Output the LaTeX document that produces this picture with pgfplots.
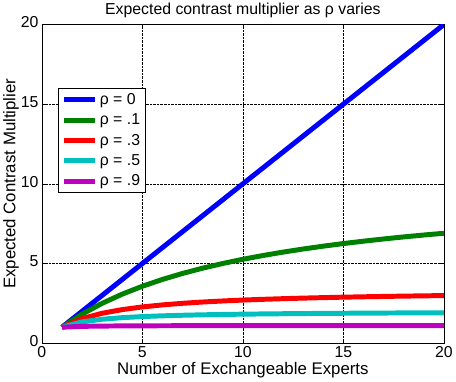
\documentclass[border=0pt]{standalone}
\usepackage{fontspec}
\setmainfont{Liberation Sans}
\usepackage{pgfplots}
\pgfplotsset{compat=1.18}
\definecolor{mgreen}{rgb}{0,0.5,0}
\definecolor{mcyan}{rgb}{0,0.75,0.75}
\definecolor{mmag}{rgb}{0.75,0,0.75}
\begin{document}
\begin{tikzpicture}[x=1bp,y=1bp]
\begin{axis}[
  scale only axis,
  width=405bp, height=321bp,
  xmin=0, xmax=20, ymin=0, ymax=20,
  xtick={0,5,10,15,20}, ytick={0,5,10,15,20},
  tick align=inside,
  tick style={black, thin},
  grid=major,
  grid style={densely dotted, black, thin},
  axis line style={black, thin},
  /pgf/number format/assume math mode=true,
  tick label style={font=\fontsize{16}{18}\selectfont},
  xticklabel style={yshift=0bp},
  yticklabel style={xshift=0bp, yshift=2bp},
  label style={font=\fontsize{17}{19}\selectfont},
  title style={font=\fontsize{16}{18}\selectfont, yshift=-3bp},
  title={Expected contrast multiplier as ρ varies},
  xlabel={Number of Exchangeable Experts},
  ylabel={Expected Contrast Multiplier},
  xlabel style={yshift=2bp},
  ylabel style={yshift=-5bp},
  legend style={at={(0.04,0.80)}, anchor=north west, draw=black, thin,
    font=\fontsize{16}{18}\selectfont, row sep=4bp, inner sep=3bp},
  legend cell align=left,
  legend image code/.code={\draw[#1, line width=5bp] (0bp,0bp) -- (32bp,0bp);},
  every axis plot/.append style={line width=5bp},
]
\addplot[blue] coordinates {(1,1)(2,2)(3,3)(4,4)(5,5)(6,6)(7,7)(8,8)(9,9)(10,10)(11,11)(12,12)(13,13)(14,14)(15,15)(16,16)(17,17)(18,18)(19,19)(20,20)};
\addplot[mgreen] coordinates {(1,1)(2,1.818)(3,2.5)(4,3.077)(5,3.571)(6,4)(7,4.375)(8,4.706)(9,5)(10,5.263)(11,5.5)(12,5.714)(13,5.909)(14,6.087)(15,6.25)(16,6.4)(17,6.538)(18,6.667)(19,6.786)(20,6.897)};
\addplot[red] coordinates {(1,1)(2,1.538)(3,1.875)(4,2.105)(5,2.273)(6,2.4)(7,2.5)(8,2.581)(9,2.647)(10,2.703)(11,2.75)(12,2.791)(13,2.826)(14,2.857)(15,2.885)(16,2.909)(17,2.931)(18,2.951)(19,2.969)(20,2.985)};
\addplot[mcyan] coordinates {(1,1)(2,1.333)(3,1.5)(4,1.6)(5,1.667)(6,1.714)(7,1.75)(8,1.778)(9,1.8)(10,1.818)(11,1.833)(12,1.846)(13,1.857)(14,1.867)(15,1.875)(16,1.882)(17,1.889)(18,1.895)(19,1.9)(20,1.905)};
\addplot[mmag] coordinates {(1,1)(2,1.053)(3,1.071)(4,1.081)(5,1.087)(6,1.091)(7,1.094)(8,1.096)(9,1.098)(10,1.099)(11,1.1)(12,1.101)(13,1.102)(14,1.102)(15,1.103)(16,1.103)(17,1.104)(18,1.104)(19,1.105)(20,1.105)};
\legend{ρ = 0, ρ = .1, ρ = .3, ρ = .5, ρ = .9}
\end{axis}
\end{tikzpicture}
\end{document}
